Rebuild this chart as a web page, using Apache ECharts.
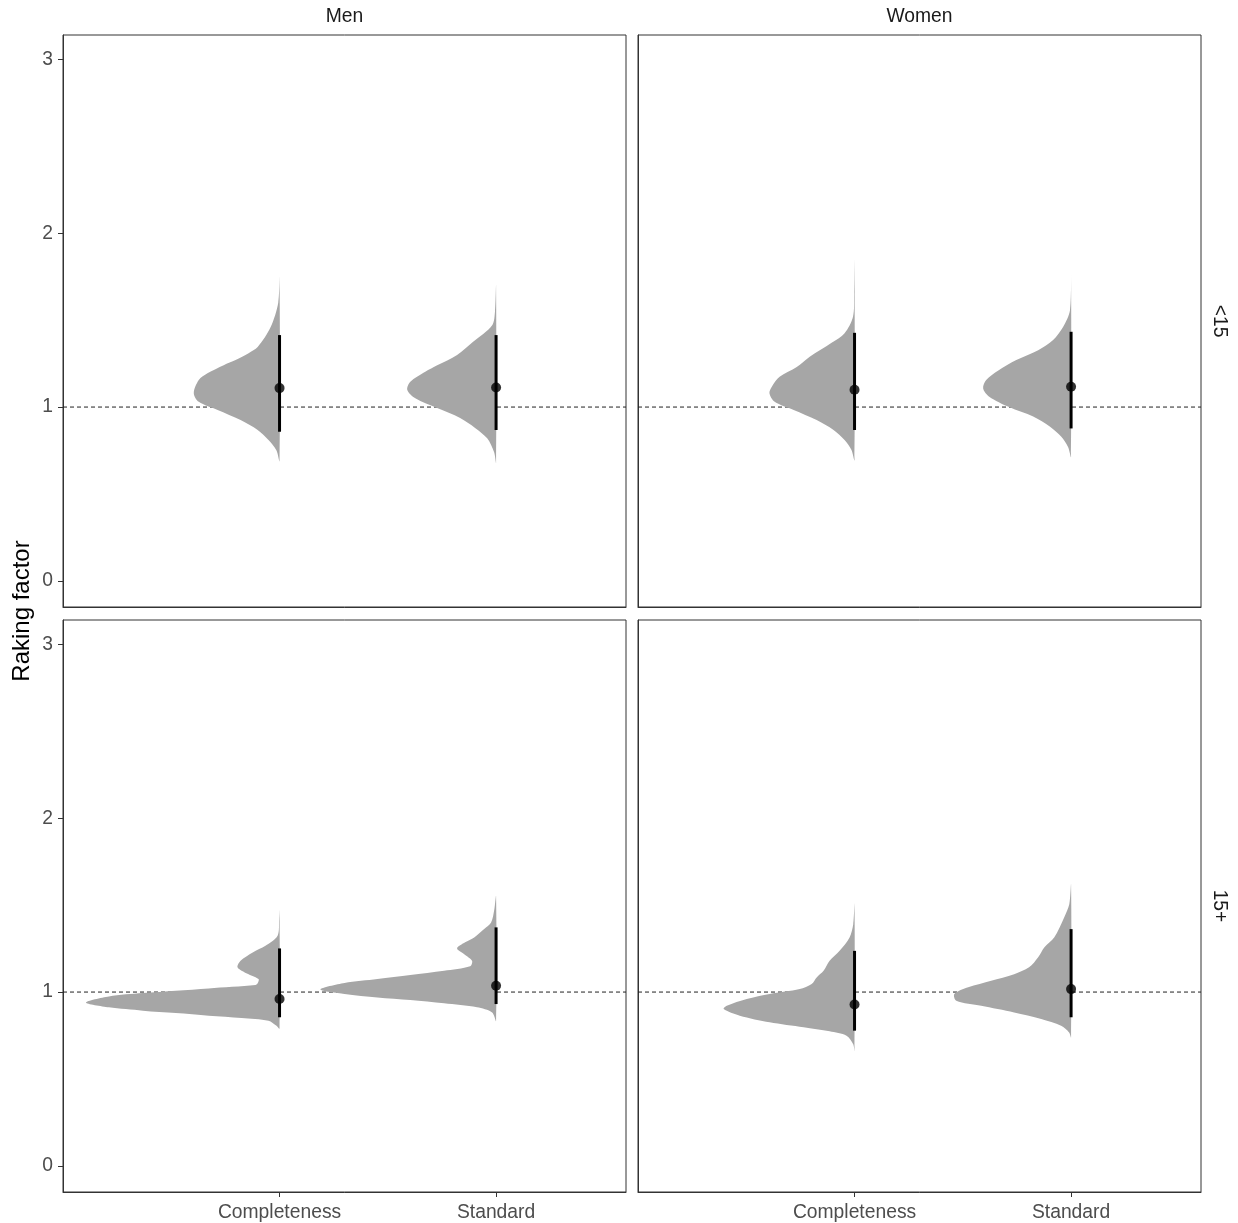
<!DOCTYPE html>
<html>
<head>
<meta charset="utf-8">
<script src="https://cdn.jsdelivr.net/npm/echarts@6/dist/echarts.min.js"></script>
<style>
html, body { margin: 0; padding: 0; background: #fff; }
#chart { width: 1238px; height: 1223px; }
</style>
</head>
<body>
<div id="chart"></div>
<script>
// categories / facets
const categories = ['Completeness', 'Standard'];
const sexes = ['Men', 'Women'];
const ageGroups = ['<15', '15+'];
const yTicks = [0, 1, 2, 3];
const xTicks = [1, 2];
const refLine = 1;

// half-violin outlines: raking factor (y) and half width (category units)
const menU15CompY = [1.75, 1.60, 1.46, 1.345, 1.31, 1.27, 1.241, 1.194, 1.155, 1.08, 1.03, 0.983, 0.925, 0.868, 0.81, 0.75, 0.69];
const menU15CompW = [0, 0.006, 0.041, 0.101, 0.143, 0.203, 0.258, 0.333, 0.373, 0.396, 0.373, 0.286, 0.180, 0.101, 0.051, 0.014, 0];
const menU15StdY = [1.70, 1.55, 1.471, 1.375, 1.30, 1.24, 1.203, 1.145, 1.098, 1.05, 0.994, 0.937, 0.88, 0.82, 0.74, 0.68];
const menU15StdW = [0, 0.005, 0.018, 0.106, 0.180, 0.272, 0.327, 0.396, 0.410, 0.373, 0.272, 0.166, 0.097, 0.041, 0.009, 0];
const womenU15CompY = [1.845, 1.65, 1.52, 1.425, 1.37, 1.29, 1.23, 1.174, 1.117, 1.079, 1.03, 0.983, 0.925, 0.868, 0.81, 0.753, 0.695];
const womenU15CompW = [0, 0.002, 0.007, 0.046, 0.106, 0.207, 0.267, 0.346, 0.382, 0.393, 0.369, 0.281, 0.175, 0.097, 0.046, 0.014, 0];
const womenU15StdY = [1.77, 1.557, 1.46, 1.385, 1.327, 1.27, 1.21, 1.155, 1.107, 1.06, 1.0, 0.945, 0.887, 0.83, 0.77, 0.714];
const womenU15StdW = [0, 0.005, 0.037, 0.083, 0.152, 0.253, 0.336, 0.392, 0.406, 0.378, 0.286, 0.175, 0.097, 0.046, 0.014, 0];
const men15CompY = [1.47, 1.42, 1.324, 1.266, 1.228, 1.18, 1.142, 1.113, 1.075, 1.05, 1.04, 1.021, 1.008, 0.994, 0.975, 0.94, 0.912, 0.893, 0.879, 0.864, 0.851, 0.835, 0.806, 0.79];
const men15CompW = [0, 0.002, 0.009, 0.065, 0.124, 0.180, 0.194, 0.161, 0.097, 0.101, 0.111, 0.327, 0.479, 0.631, 0.788, 0.894, 0.788, 0.631, 0.479, 0.327, 0.175, 0.051, 0.014, 0];
const men15StdY = [1.553, 1.477, 1.40, 1.362, 1.314, 1.286, 1.251, 1.218, 1.18, 1.148, 1.122, 1.098, 1.075, 1.052, 1.015, 0.989, 0.969, 0.954, 0.935, 0.912, 0.883, 0.835];
const men15StdW = [0, 0.008, 0.023, 0.055, 0.101, 0.143, 0.180, 0.147, 0.111, 0.120, 0.240, 0.396, 0.548, 0.700, 0.811, 0.700, 0.548, 0.396, 0.240, 0.088, 0.018, 0];
const women15CompY = [1.506, 1.39, 1.314, 1.237, 1.18, 1.122, 1.084, 1.046, 1.017, 0.989, 0.96, 0.921, 0.902, 0.864, 0.826, 0.797, 0.774, 0.749, 0.70, 0.663];
const women15CompW = [0, 0.006, 0.023, 0.069, 0.115, 0.143, 0.175, 0.198, 0.253, 0.392, 0.498, 0.590, 0.604, 0.530, 0.392, 0.235, 0.115, 0.037, 0.006, 0];
const women15StdY = [1.62, 1.506, 1.429, 1.314, 1.257, 1.20, 1.142, 1.103, 1.065, 1.027, 0.989, 0.95, 0.921, 0.883, 0.845, 0.806, 0.768, 0.74];
const women15StdW = [0, 0.008, 0.032, 0.078, 0.124, 0.152, 0.194, 0.263, 0.369, 0.475, 0.539, 0.530, 0.415, 0.263, 0.138, 0.046, 0.009, 0];

// point + interval, panel order: Men <15, Women <15, Men 15+, Women 15+
const medianComp = [1.109, 1.10, 0.96, 0.928];
const medianStd = [1.113, 1.117, 1.036, 1.017];
const lowerComp = [0.858, 0.868, 0.855, 0.778];
const lowerStd = [0.868, 0.877, 0.931, 0.855];
const upperComp = [1.414, 1.427, 1.251, 1.237];
const upperStd = [1.414, 1.433, 1.372, 1.362];

const violins = [
  [[menU15CompY, menU15CompW], [menU15StdY, menU15StdW]],
  [[womenU15CompY, womenU15CompW], [womenU15StdY, womenU15StdW]],
  [[men15CompY, men15CompW], [men15StdY, men15StdW]],
  [[women15CompY, women15CompW], [women15StdY, women15StdW]]
];

const chart = echarts.init(document.getElementById('chart'));

const font = 'Liberation Sans, Arial, Helvetica, sans-serif';
const panelLeft = [63, 638];
const panelTop = [35, 620];
const panelW = 563;
const panelH = 572;

let grids = [], xAxes = [], yAxes = [], series = [];

for (let p = 0; p < 4; p++) {
  const col = p % 2, row = Math.floor(p / 2);
  grids.push({
    left: panelLeft[col], top: panelTop[row], width: panelW, height: panelH,
    show: true, borderColor: '#333', borderWidth: 1, backgroundColor: '#fff'
  });
  xAxes.push({
    gridIndex: p, type: 'value', min: 0, max: 2.6,
    axisLine: { show: true, onZero: false, lineStyle: { color: '#333', width: 1 } },
    axisTick: { show: row === 1, length: 5, customValues: xTicks, lineStyle: { color: '#333' } },
    axisLabel: {
      show: row === 1, customValues: xTicks, margin: 11,
      color: '#4d4d4d', fontSize: 19.3, fontFamily: font,
      formatter: v => categories[Math.round(v) - 1]
    },
    splitLine: { show: false }
  });
  yAxes.push({
    gridIndex: p, type: 'value', min: -0.15, max: 3.14,
    axisLine: { show: true, onZero: false, lineStyle: { color: '#333', width: 1 } },
    axisTick: { show: col === 0, length: 5, customValues: yTicks, lineStyle: { color: '#333' } },
    axisLabel: {
      show: col === 0, customValues: yTicks, margin: 10,
      color: '#4d4d4d', fontSize: 19.3, fontFamily: font
    },
    splitLine: { show: false }
  });

  // dashed reference line at 1
  series.push({
    type: 'line', xAxisIndex: p, yAxisIndex: p, z: 1,
    data: [[0, refLine], [2.6, refLine]],
    symbol: 'none', silent: true,
    lineStyle: { color: '#222', width: 1, type: [4, 3] }
  });

  // half violins
  const shapes = violins[p];
  series.push({
    type: 'custom', xAxisIndex: p, yAxisIndex: p, z: 2,
    data: [0, 1],
    renderItem: function (params, api) {
      const c = params.dataIndex;
      const ys = shapes[c][0], ws = shapes[c][1];
      const pts = ys.map((y, i) => api.coord([c + 1 - ws[i], y]));
      return {
        type: 'polygon',
        shape: { points: pts, smooth: 0.3 },
        style: { fill: '#a6a6a6' }
      };
    }
  });

  // intervals
  const lows = [lowerComp[p], lowerStd[p]];
  const highs = [upperComp[p], upperStd[p]];
  series.push({
    type: 'custom', xAxisIndex: p, yAxisIndex: p, z: 3,
    data: [0, 1],
    renderItem: function (params, api) {
      const c = params.dataIndex;
      const a = api.coord([c + 1, lows[c]]);
      const b = api.coord([c + 1, highs[c]]);
      return {
        type: 'line',
        shape: { x1: a[0], y1: a[1], x2: b[0], y2: b[1] },
        style: { stroke: '#000', lineWidth: 3 }
      };
    }
  });

  // medians
  series.push({
    type: 'scatter', xAxisIndex: p, yAxisIndex: p, z: 4,
    data: [[1, medianComp[p]], [2, medianStd[p]]],
    symbol: 'circle', symbolSize: 10,
    itemStyle: { color: '#000' }
  });
}

const stripStyle = { fill: '#1a1a1a', font: '19.3px ' + font, textAlign: 'center', textVerticalAlign: 'middle' };

const option = {
  animation: false,
  backgroundColor: '#fff',
  grid: grids,
  xAxis: xAxes,
  yAxis: yAxes,
  series: series,
  graphic: [
    { type: 'text', x: panelLeft[0] + panelW / 2, y: 17, style: Object.assign({ text: sexes[0] }, stripStyle) },
    { type: 'text', x: panelLeft[1] + panelW / 2, y: 17, style: Object.assign({ text: sexes[1] }, stripStyle) },
    { type: 'text', x: 1219, y: panelTop[0] + panelH / 2, rotation: -Math.PI / 2, style: Object.assign({ text: ageGroups[0] }, stripStyle) },
    { type: 'text', x: 1219, y: panelTop[1] + panelH / 2, rotation: -Math.PI / 2, style: Object.assign({ text: ageGroups[1] }, stripStyle) },
    {
      type: 'text', x: 22, y: 611, rotation: Math.PI / 2,
      style: { text: 'Raking factor', fill: '#000', font: '24px ' + font, textAlign: 'center', textVerticalAlign: 'middle' }
    }
  ]
};

chart.setOption(option);
</script>
</body>
</html>
